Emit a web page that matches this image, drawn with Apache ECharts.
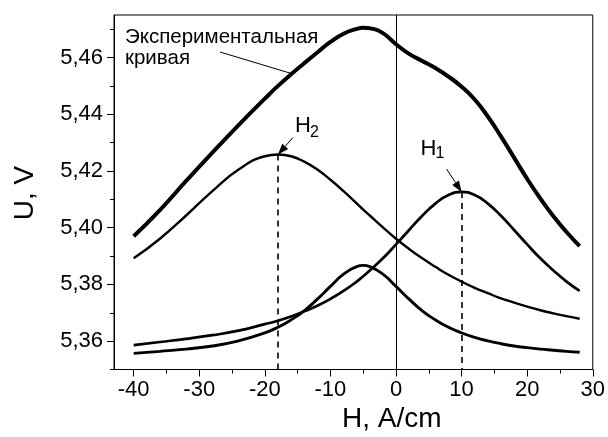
<!DOCTYPE html>
<html>
<head>
<meta charset="utf-8">
<script src="https://cdn.jsdelivr.net/npm/echarts@6/dist/echarts.min.js"></script>
<style>
html,body{margin:0;padding:0;background:#fff;}
#c{width:608px;height:437px;}
</style>
</head>
<body>
<div id="c"></div>
<script>
// ---- data ----
const H = [-40,-36,-32,-28,-24,-20,-18,-16,-14,-12,-10,-8,-6,-5,-4,-2,0,2,4,6,8,10,12,14,16,18,20,22,24,26,28];
const expU = [5.3970,5.4062,5.4165,5.4265,5.4362,5.4455,5.4500,5.4541,5.4580,5.4618,5.4655,5.4684,5.4701,5.4705,5.4703,5.4686,5.4647,5.4613,5.4588,5.4563,5.4533,5.4497,5.4452,5.4392,5.4322,5.4247,5.4172,5.4103,5.4040,5.3985,5.3935];
const h2U = [5.3892,5.3961,5.4043,5.4129,5.4205,5.4252,5.4258,5.4252,5.4233,5.4205,5.4169,5.4129,5.4086,5.4064,5.4043,5.4001,5.3961,5.3925,5.3892,5.3862,5.3834,5.3810,5.3788,5.3769,5.3751,5.3736,5.3722,5.3709,5.3698,5.3688,5.3679];
const h1U = [5.3586,5.3597,5.3608,5.3621,5.3637,5.3660,5.3672,5.3687,5.3705,5.3725,5.3749,5.3777,5.3810,5.3829,5.3849,5.3892,5.3941,5.3992,5.4042,5.4085,5.4115,5.4126,5.4115,5.4085,5.4042,5.3992,5.3941,5.3892,5.3849,5.3810,5.3777];
const h3U = [5.3557,5.3564,5.3572,5.3583,5.3601,5.3629,5.3649,5.3675,5.3707,5.3748,5.3793,5.3836,5.3863,5.3867,5.3863,5.3836,5.3793,5.3748,5.3707,5.3675,5.3649,5.3629,5.3613,5.3601,5.3591,5.3583,5.3577,5.3572,5.3568,5.3564,5.3561];
const xTicks = [-40,-30,-20,-10,0,10,20,30];
const xMinorTicks = [-35,-25,-15,-5,5,15,25];
const yTicks = [5.36,5.38,5.40,5.42,5.44,5.46];
const yMinorTicks = [5.35,5.37,5.39,5.41,5.43,5.45,5.47];
const xTitle = 'H, A/cm';
const yTitle = 'U, V';
const expLabel = 'Экспериментальная\nкривая';

// ---- chart ----
const X_MIN = -43, X_MAX = 30, Y_MIN = 5.35, Y_MAX = 5.475;
const FONT = '"Liberation Sans", Arial, sans-serif';
const pairs = vals => H.map((h, i) => [h, vals[i]]);
const peakOf = vals => { let k = 0; vals.forEach((v, i) => { if (v > vals[k]) k = i; }); return [H[k], vals[k]]; };
const p2 = peakOf(h2U), p1 = peakOf(h1U);

const chart = echarts.init(document.getElementById('c'), null, {renderer: 'canvas'});
const axisCommon = {
  type: 'value', min: X_MIN, max: X_MAX,
  splitLine: {show: false}
};
const option = {
  animation: false,
  backgroundColor: '#fff',
  grid: {left: 114, right: 13, top: 15, bottom: 67.5, show: true, borderColor: '#000', borderWidth: 1, containLabel: false},
  xAxis: [
    Object.assign({}, axisCommon, {
      axisLine: {show: true, onZero: false, lineStyle: {color: '#000', width: 1}},
      axisTick: {show: true, inside: false, length: 7, customValues: xTicks, lineStyle: {color: '#000', width: 1}},
      axisLabel: {show: true, customValues: xTicks, margin: 9, color: '#000', fontSize: 22, fontFamily: FONT}
    }),
    Object.assign({}, axisCommon, {
      position: 'bottom',
      axisLine: {show: false, onZero: false},
      axisTick: {show: true, inside: false, length: 4, customValues: xMinorTicks, lineStyle: {color: '#000', width: 1}},
      axisLabel: {show: false}
    })
  ],
  yAxis: [
    {
      type: 'value', min: Y_MIN, max: Y_MAX, splitLine: {show: false},
      axisLine: {show: true, onZero: false, lineStyle: {color: '#000', width: 1}},
      axisTick: {show: true, inside: false, length: 7, customValues: yTicks, lineStyle: {color: '#000', width: 1}},
      axisLabel: {show: true, customValues: yTicks, margin: 11, color: '#000', fontSize: 22, fontFamily: FONT,
        formatter: v => v.toFixed(2).replace('.', ',')}
    },
    {
      type: 'value', min: Y_MIN, max: Y_MAX, position: 'left', splitLine: {show: false},
      axisLine: {show: false, onZero: false},
      axisTick: {show: true, inside: false, length: 4, customValues: yMinorTicks, lineStyle: {color: '#000', width: 1}},
      axisLabel: {show: false}
    }
  ],
  series: [
    {
      name: 'H2', type: 'line', data: pairs(h2U), smooth: true, symbol: 'none',
      lineStyle: {color: '#000', width: 2.4}, z: 3,
      markLine: {
        silent: true, symbol: ['none', 'none'], label: {show: false},
        data: [
          [{coord: [p2[0], p2[1]], lineStyle: {type: [6, 5], width: 1.6, color: '#000'}}, {coord: [p2[0], Y_MIN]}],
          [{coord: [p1[0], p1[1]], lineStyle: {type: [6, 5], width: 1.6, color: '#000'}}, {coord: [p1[0], Y_MIN]}],
          [{coord: [0, Y_MIN], lineStyle: {type: 'solid', width: 1, color: '#000'}}, {coord: [0, Y_MAX]}]
        ]
      }
    },
    {name: 'H1', type: 'line', data: pairs(h1U), smooth: true, symbol: 'none', lineStyle: {color: '#000', width: 2.7}, z: 3},
    {name: 'H3', type: 'line', data: pairs(h3U), smooth: true, symbol: 'none', lineStyle: {color: '#000', width: 2.9}, z: 3},
    {name: 'exp', type: 'line', data: pairs(expU), smooth: true, symbol: 'none', lineStyle: {color: '#000', width: 4}, z: 4}
  ]
};
chart.setOption(option);

// annotations positioned from the library's own scales
function arrow(tip, dx, dy) {
  const sx = tip[0] + dx, sy = tip[1] + dy;
  const len = Math.hypot(dx, dy), ux = -dx / len, uy = -dy / len;
  const hl = 11, hw = 4;
  const bx = tip[0] - ux * hl, by = tip[1] - uy * hl;
  return [
    {type: 'line', shape: {x1: sx, y1: sy, x2: bx, y2: by}, style: {stroke: '#000', lineWidth: 1}, z: 10},
    {type: 'polygon', shape: {points: [[tip[0], tip[1]], [bx - uy * hw, by + ux * hw], [bx + uy * hw, by - ux * hw]]}, style: {fill: '#000'}, z: 10}
  ];
}
const t2 = chart.convertToPixel({gridIndex: 0}, p2);
const t1 = chart.convertToPixel({gridIndex: 0}, p1);
const txt = (x, y, text, size, extra) => Object.assign({type: 'text', x: x, y: y, z: 10,
  style: {text: text, font: size + 'px ' + FONT, fill: '#000', textAlign: 'left', textVerticalAlign: 'top'}}, extra || {});
chart.setOption({
  graphic: [].concat(
    arrow(t2, 15, -17),
    arrow(t1, -15, -23),
    [
      txt(t2[0] + 17, t2[1] - 40, 'H', 22),
      txt(t2[0] + 32, t2[1] - 30, '2', 16),
      txt(t1[0] - 41, t1[1] - 54, 'H', 22),
      txt(t1[0] - 26, t1[1] - 46, '1', 16),
      {type: 'text', x: 125, y: 27, z: 10, style: {text: expLabel, font: '20.5px ' + FONT, fill: '#000', lineHeight: 21, textAlign: 'left', textVerticalAlign: 'top'}},
      {type: 'line', shape: {x1: 220, y1: 52, x2: 293, y2: 74}, style: {stroke: '#000', lineWidth: 1}, z: 10},
      txt(342, 405, xTitle, 28),
      {type: 'text', x: 25, y: 193, rotation: Math.PI / 2, z: 10,
        style: {text: yTitle, font: '28px ' + FONT, fill: '#000', textAlign: 'center', textVerticalAlign: 'middle'}}
    ]
  )
});
</script>
</body>
</html>
